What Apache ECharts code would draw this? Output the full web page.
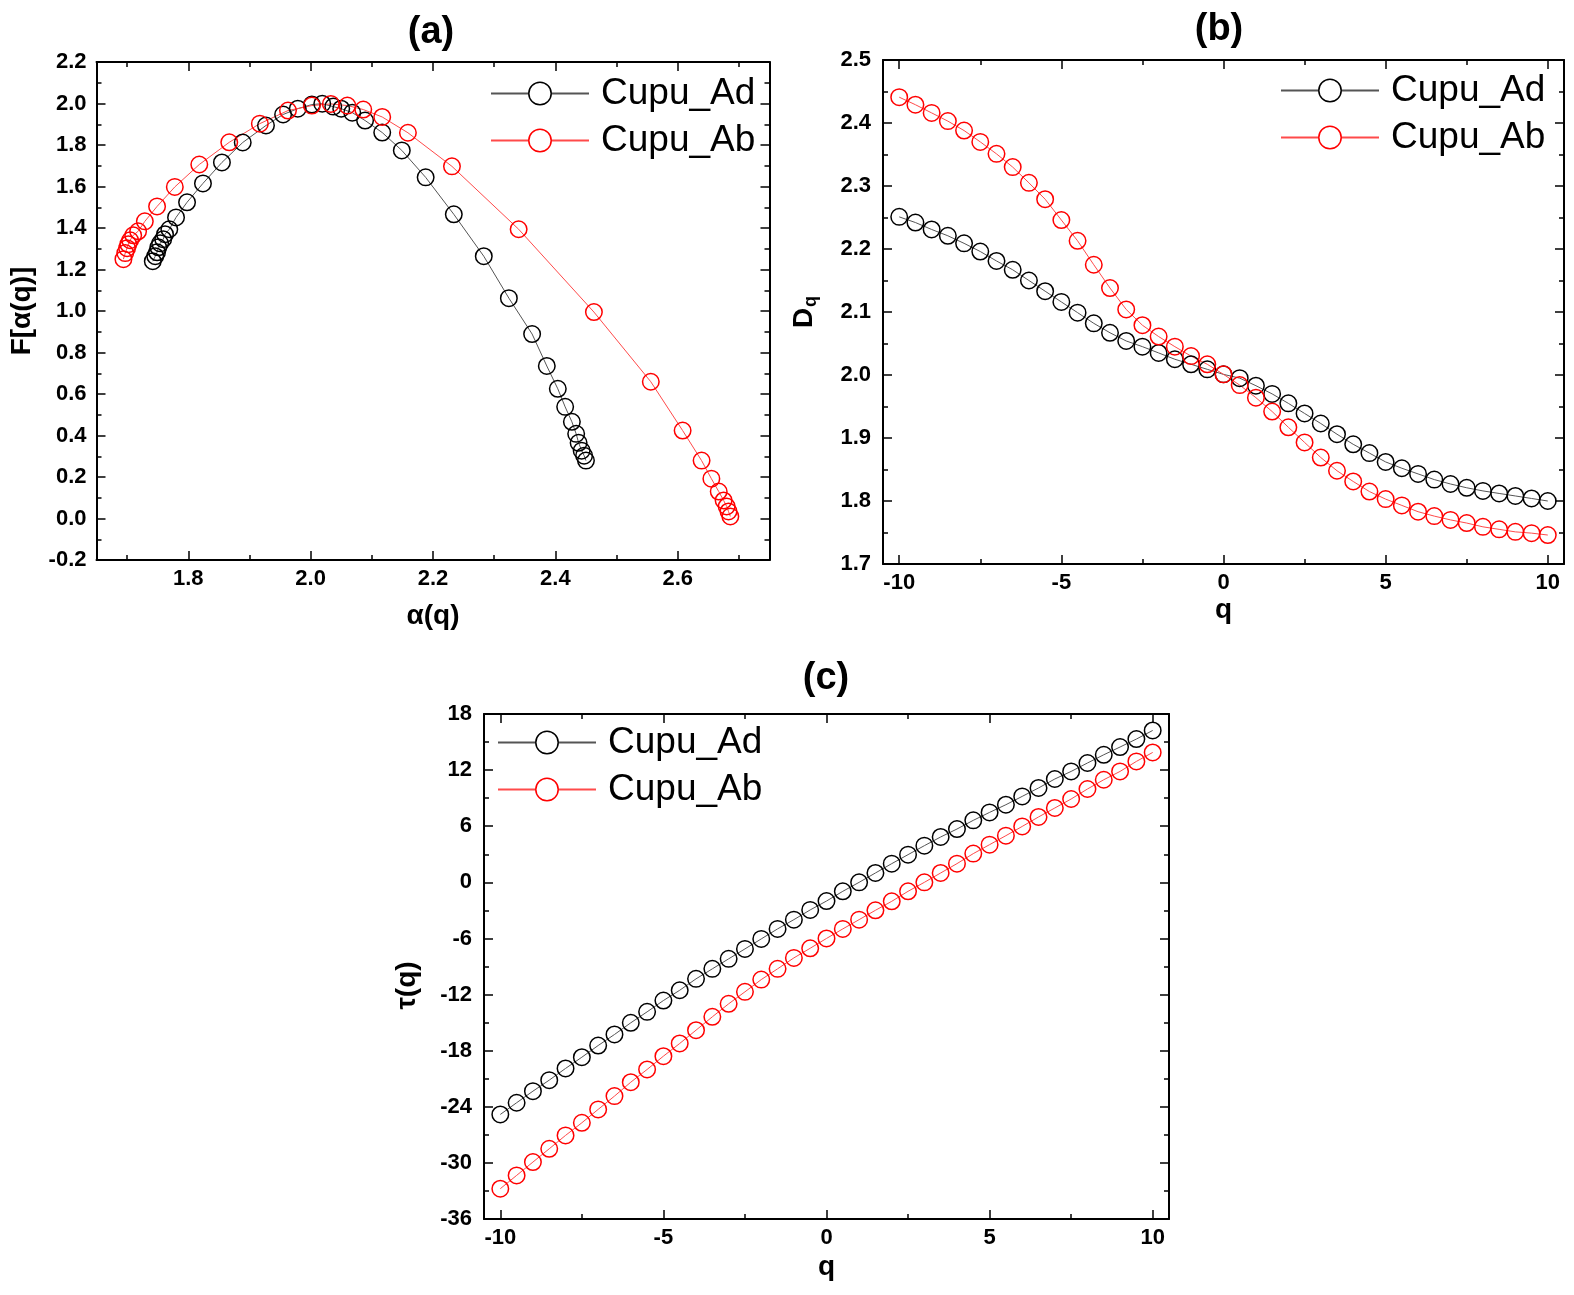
<!DOCTYPE html>
<html lang="en">
<head>
  <meta charset="UTF-8">
  <title>Cupu multifractal spectra</title>
  <script src="https://cdn.jsdelivr.net/npm/echarts@6/dist/echarts.min.js"></script>
  <style>
    html, body { margin: 0; padding: 0; background: #fff; }
    #main { width: 1574px; height: 1295px; }
  </style>
</head>
<body>
<div id="main"></div>
<script>
  // (a) singularity spectrum
  var alphaAd = [1.742, 1.746, 1.749, 1.751, 1.754, 1.759, 1.762, 1.769, 1.780, 1.798, 1.824, 1.855, 1.889, 1.927, 1.955, 1.979, 2.002, 2.019, 2.037, 2.050, 2.068, 2.089, 2.117, 2.149, 2.188, 2.234, 2.283, 2.324, 2.362, 2.386, 2.404, 2.416, 2.427, 2.434, 2.438, 2.443, 2.447, 2.450];
  var fAd = [1.240, 1.264, 1.283, 1.307, 1.326, 1.346, 1.370, 1.394, 1.451, 1.524, 1.615, 1.716, 1.812, 1.894, 1.947, 1.975, 1.995, 1.999, 1.985, 1.975, 1.956, 1.918, 1.860, 1.774, 1.644, 1.466, 1.264, 1.062, 0.889, 0.735, 0.625, 0.538, 0.466, 0.408, 0.365, 0.327, 0.303, 0.279];
  var alphaAb = [1.694, 1.697, 1.700, 1.702, 1.705, 1.710, 1.718, 1.729, 1.749, 1.778, 1.818, 1.867, 1.917, 1.963, 2.002, 2.033, 2.060, 2.086, 2.117, 2.159, 2.231, 2.340, 2.463, 2.556, 2.608, 2.639, 2.655, 2.667, 2.675, 2.680, 2.683, 2.686];
  var fAb = [1.250, 1.279, 1.303, 1.322, 1.341, 1.365, 1.384, 1.432, 1.504, 1.598, 1.706, 1.813, 1.903, 1.966, 1.990, 1.998, 1.990, 1.971, 1.935, 1.859, 1.697, 1.394, 0.995, 0.659, 0.424, 0.279, 0.192, 0.130, 0.087, 0.058, 0.034, 0.010];

  // (b) and (c) against q
  var qValues = [-10, -9.5, -9, -8.5, -8, -7.5, -7, -6.5, -6, -5.5, -5, -4.5, -4, -3.5, -3, -2.5, -2, -1.5, -1, -0.5, 0,
                 0.5, 1, 1.5, 2, 2.5, 3, 3.5, 4, 4.5, 5, 5.5, 6, 6.5, 7, 7.5, 8, 8.5, 9, 9.5, 10];
  var dqAd = [2.251, 2.242, 2.231, 2.221, 2.209, 2.196, 2.181, 2.167, 2.150, 2.133, 2.116, 2.099, 2.082, 2.067, 2.054, 2.045, 2.035, 2.025, 2.017, 2.009, 2.001,
              1.995, 1.983, 1.970, 1.955, 1.939, 1.923, 1.906, 1.890, 1.876, 1.862, 1.852, 1.843, 1.834, 1.827, 1.821, 1.816, 1.812, 1.808, 1.804, 1.800];
  var dqAb = [2.441, 2.429, 2.416, 2.403, 2.388, 2.370, 2.351, 2.330, 2.305, 2.279, 2.246, 2.213, 2.175, 2.138, 2.104, 2.079, 2.061, 2.045, 2.030, 2.017, 2.001,
              1.984, 1.964, 1.942, 1.917, 1.893, 1.869, 1.848, 1.831, 1.815, 1.803, 1.793, 1.783, 1.776, 1.770, 1.765, 1.759, 1.755, 1.751, 1.749, 1.746];
  var tauAd = [-24.82, -23.57, -22.33, -21.15, -19.90, -18.70, -17.45, -16.27, -15.02, -13.85, -12.64, -11.54, -10.32, -9.25, -8.18, -7.12, -6.05, -4.98, -3.99, -2.95, -2.00,
               -0.96, 0.00, 1.00, 2.00, 2.96, 3.92, 4.85, 5.70, 6.63, 7.48, 8.30, 9.19, 10.09, 11.05, 11.86, 12.76, 13.64, 14.47, 15.32, 16.24];
  var tauAb = [-32.76, -31.34, -29.91, -28.49, -27.06, -25.71, -24.28, -22.86, -21.37, -20.01, -18.59, -17.23, -15.81, -14.38, -12.99, -11.71, -10.40, -9.25, -8.08, -7.05, -6.00,
               -4.98, -3.99, -2.99, -2.03, -0.96, 0.00, 1.00, 2.00, 3.07, 4.03, 4.99, 5.98, 6.99, 7.95, 8.91, 9.98, 10.97, 11.86, 12.93, 13.89];

  // tick values
  var aXMajor = [1.8, 2.0, 2.2, 2.4, 2.6];
  var aXMinor = [1.7, 1.9, 2.1, 2.3, 2.5, 2.7];
  var aYMajor = [-0.2, 0.0, 0.2, 0.4, 0.6, 0.8, 1.0, 1.2, 1.4, 1.6, 1.8, 2.0, 2.2];
  var aYMinor = [-0.1, 0.1, 0.3, 0.5, 0.7, 0.9, 1.1, 1.3, 1.5, 1.7, 1.9, 2.1];
  var qMajor = [-10, -5, 0, 5, 10];
  var qMinor = [-7.5, -2.5, 2.5, 7.5];
  var dYMajor = [1.7, 1.8, 1.9, 2.0, 2.1, 2.2, 2.3, 2.4, 2.5];
  var dYMinor = [1.75, 1.85, 1.95, 2.05, 2.15, 2.25, 2.35, 2.45];
  var tYMajor = [-36, -30, -24, -18, -12, -6, 0, 6, 12, 18];
  var tYMinor = [-33, -27, -21, -15, -9, -3, 3, 9, 15];

  var FONT = 'Liberation Sans, Arial, sans-serif';
  var xAxes = [];
  var yAxes = [];

  function pairs(xs, ys) {
    return xs.map(function (x, i) { return [x, ys[i]]; });
  }

  // a boxed axis: labelled side, mirrored side, and minor ticks on both
  function addAxes(list, dim, grid, min, max, major, minor, digits, name, nameGap, labelMargin, nameStyle) {
    var sides = dim === 'x' ? ['bottom', 'top'] : ['left', 'right'];
    var first = list.length;
    sides.forEach(function (pos, k) {
      list.push({
        type: 'value', gridIndex: grid, position: pos, min: min, max: max,
        axisLine: { show: true, onZero: false, lineStyle: { color: '#000', width: 2 } },
        axisTick: { show: true, inside: true, length: 9, customValues: major, lineStyle: { color: '#000', width: 1.5 } },
        axisLabel: k === 0 ? {
          show: true, customValues: major, margin: labelMargin,
          formatter: function (v) { return Number(v).toFixed(digits); },
          fontSize: 22, fontWeight: 'bold', color: '#000', fontFamily: FONT
        } : { show: false },
        splitLine: { show: false },
        name: k === 0 ? name : '',
        nameLocation: 'middle',
        nameGap: nameGap,
        nameTextStyle: nameStyle || { fontSize: 28, fontWeight: 'bold', color: '#000', fontFamily: FONT }
      });
      list.push({
        type: 'value', gridIndex: grid, position: pos, min: min, max: max,
        axisLine: { show: false, onZero: false },
        axisTick: { show: true, inside: true, length: 5, customValues: minor, lineStyle: { color: '#000', width: 1.5 } },
        axisLabel: { show: false },
        splitLine: { show: false }
      });
    });
    return first;
  }

  var nameBold = { fontSize: 28, fontWeight: 'bold', color: '#000', fontFamily: FONT };

  var ax = addAxes(xAxes, 'x', 0, 1.65, 2.75, aXMajor, aXMinor, 1, 'α(q)', 42, 8);
  var ay = addAxes(yAxes, 'y', 0, -0.2, 2.2, aYMajor, aYMinor, 1, 'F[α(q)]', 60, 10);
  var bx = addAxes(xAxes, 'x', 1, -10.5, 10.5, qMajor, qMinor, 0, 'q', 32, 8);
  var by = addAxes(yAxes, 'y', 1, 1.7, 2.5, dYMajor, dYMinor, 1, '{d|D}{s|q}', 63, 12, {
    color: '#000',
    rich: {
      d: { fontSize: 28, fontWeight: 'bold', fontFamily: FONT, color: '#000' },
      s: { fontSize: 18, fontWeight: 'bold', fontFamily: FONT, color: '#000', padding: [14, 0, 0, 1] }
    }
  });
  var cx = addAxes(xAxes, 'x', 2, -10.5, 10.5, qMajor, qMinor, 0, 'q', 34, 8);
  var cy = addAxes(yAxes, 'y', 2, -36, 18, tYMajor, tYMinor, 0, 'τ(q)', 63, 12,
    { fontSize: 28, fontWeight: 'bold', color: '#000', fontFamily: FONT, padding: [0, 38, 0, 0] });

  function makeSeries(name, data, xi, yi, red) {
    return {
      type: 'line', name: name, xAxisIndex: xi, yAxisIndex: yi, data: data,
      symbol: 'circle', symbolSize: 16.5,
      itemStyle: { color: 'transparent', borderColor: red ? '#ff0000' : '#000', borderWidth: 1.5 },
      lineStyle: { color: red ? '#ff4a4a' : '#555', width: 1 },
      emphasis: { disabled: true },
      clip: false
    };
  }

  function makeLegend(left, top) {
    return {
      orient: 'vertical', left: left, top: top, padding: 0,
      itemWidth: 98, itemHeight: 28, itemGap: 10, selectedMode: false,
      data: ['Cupu_Ad', 'Cupu_Ab'],
      itemStyle: { color: '#fff', borderWidth: 1.5 },
      textStyle: { fontSize: 37, color: '#000', fontFamily: FONT, lineHeight: 28, padding: [0, 0, 0, 7] }
    };
  }

  function makeTitle(text, x, y) {
    return {
      text: text, left: x, top: y, textAlign: 'center', padding: 0,
      textStyle: { fontSize: 38, fontWeight: 'bold', color: '#000', fontFamily: FONT }
    };
  }

  var chart = echarts.init(document.getElementById('main'));
  chart.setOption({
    animation: false,
    backgroundColor: '#fff',
    title: [makeTitle('(a)', 431, 14), makeTitle('(b)', 1219, 11), makeTitle('(c)', 826, 660)],
    legend: [makeLegend(490, 75), makeLegend(1280, 72), makeLegend(497, 724)],
    grid: [
      { left: 96.5, top: 62, width: 673, height: 498, outerBoundsMode: 'none' },
      { left: 883, top: 60, width: 681, height: 504, outerBoundsMode: 'none' },
      { left: 484, top: 714, width: 685, height: 505, outerBoundsMode: 'none' }
    ],
    xAxis: xAxes,
    yAxis: yAxes,
    series: [
      makeSeries('Cupu_Ad', pairs(alphaAd, fAd), ax, ay, false),
      makeSeries('Cupu_Ab', pairs(alphaAb, fAb), ax, ay, true),
      makeSeries('Cupu_Ad', pairs(qValues, dqAd), bx, by, false),
      makeSeries('Cupu_Ab', pairs(qValues, dqAb), bx, by, true),
      makeSeries('Cupu_Ad', pairs(qValues, tauAd), cx, cy, false),
      makeSeries('Cupu_Ab', pairs(qValues, tauAb), cx, cy, true)
    ]
  });
</script>
</body>
</html>
